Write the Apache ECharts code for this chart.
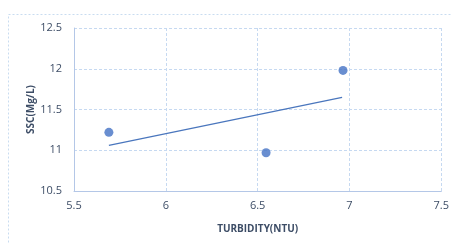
<!DOCTYPE html>
<html>
<head>
<meta charset="utf-8">
<script src="https://cdn.jsdelivr.net/npm/echarts@6/dist/echarts.min.js"></script>
<style>
  html, body { margin: 0; padding: 0; background: #fff; }
  #chart { width: 452px; height: 244px; }
</style>
</head>
<body>
<div id="chart"></div>
<script>
// data
var turbidity = [5.69, 6.546, 6.965];
var ssc = [11.22, 10.97, 11.98];
// trend line ends (linear fit as drawn)
var trendX = [5.69, 6.96];
var trendY = [11.06, 11.65];

var points = turbidity.map(function (x, i) { return [x, ssc[i]]; });
var trend = trendX.map(function (x, i) { return [x, trendY[i]]; });

var textColor = '#3d4d66';
var lineColor = '#b4c7e7';

var chart = echarts.init(document.getElementById('chart'), null, { renderer: 'canvas' });
var option = {
  animation: false,
  grid: { left: 74, right: 9, top: 28, bottom: 53 },
  graphic: [{
    type: 'rect',
    shape: { x: 8.5, y: 14.5, width: 460, height: 260 },
    style: { fill: 'none', stroke: '#c9dcf0', lineWidth: 1, lineDash: [2, 2] },
    silent: true
  }],
  xAxis: {
    type: 'value',
    min: 5.5, max: 7.5, interval: 0.5,
    name: 'TURBIDITY(NTU)',
    nameLocation: 'middle',
    nameGap: 33,
    nameTextStyle: { color: textColor, fontSize: 10, fontWeight: 'bold', fontFamily: 'Open Sans' },
    axisLine: { show: true, lineStyle: { color: lineColor, width: 1 } },
    axisTick: { show: false },
    axisLabel: { color: textColor, fontSize: 11, margin: 9, fontFamily: 'Open Sans',
      formatter: function (v) { return String(v); } },
    splitLine: { show: true, lineStyle: { color: '#c6d9f1', type: [3, 2], width: 1 } }
  },
  yAxis: {
    type: 'value',
    min: 10.5, max: 12.5, interval: 0.5,
    name: 'SSC(Mg/L)',
    nameLocation: 'middle',
    nameGap: 38,
    nameMoveOverlap: false,
    nameTextStyle: { color: textColor, fontSize: 10, fontWeight: 'bold', fontFamily: 'Open Sans' },
    axisLine: { show: true, lineStyle: { color: lineColor, width: 1 } },
    axisTick: { show: false },
    axisLabel: { color: textColor, fontSize: 11, margin: 12, fontFamily: 'Open Sans',
      formatter: function (v) { return String(v); } },
    splitLine: { show: true, lineStyle: { color: '#c6d9f1', type: [3, 2], width: 1 } }
  },
  series: [{
    type: 'line',
    data: trend,
    symbol: 'none',
    lineStyle: { color: '#4a76bd', width: 1.3 },
    z: 2
  }, {
    type: 'scatter',
    data: points,
    symbol: 'circle',
    symbolSize: 9,
    itemStyle: { color: '#4472c4' },
    z: 3
  }]
};
chart.setOption(option);
</script>
</body>
</html>
